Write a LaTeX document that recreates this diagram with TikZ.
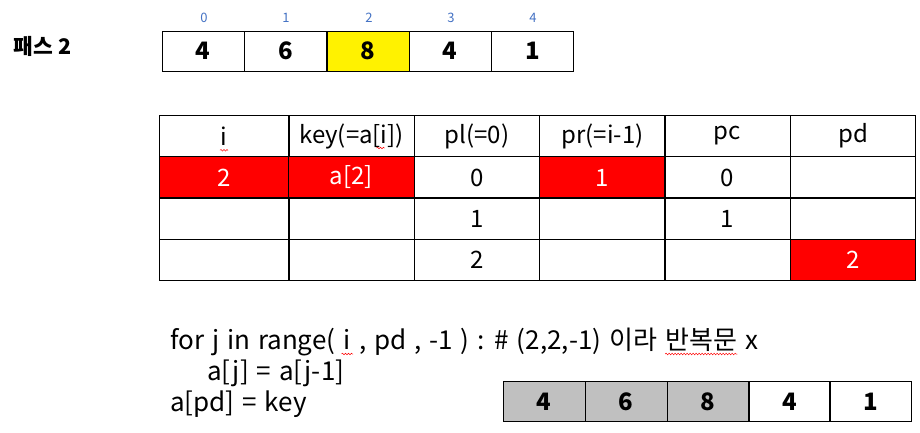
\documentclass[tikz,border=0pt]{standalone}
\usepackage{fontspec}
\setmainfont{Noto Sans CJK KR}
\usetikzlibrary{decorations.pathmorphing}
\definecolor{idxblue}{RGB}{68,114,196}
\definecolor{cellgray}{RGB}{192,192,192}
\newcommand\codefont{\fontsize{26}{26}\selectfont\spaceskip 7.9pt\relax}
\tikzset{
	cell/.style={draw, thick, minimum width=82pt, minimum height=40pt, inner sep=0pt, font=\fontsize{24}{24}\selectfont\bfseries},
	tcell/.style={draw, thick, minimum width=125.5pt, minimum height=41.5pt, inner sep=0pt, font=\fontsize{24}{24}\selectfont},
	hot/.style={fill=red, text=white},
	done/.style={fill=cellgray},
	idx/.style={text=idxblue, font=\fontsize{13}{13}\selectfont},
	code/.style={anchor=base west, inner sep=0pt, font=\codefont},
	spell/.style={red, line width=0.5pt, decorate, decoration={snake, amplitude=0.8pt, segment length=3pt}}
}
\begin{document}
\begin{tikzpicture}[x=1pt, y=-1pt]
	\useasboundingbox[fill=white] (0,0) rectangle (920,433);

	% pass label and array
	\node[anchor=west, font=\fontsize{21.5}{21.5}\selectfont\bfseries] (pass) at (10,46) {패스 2};
	\node[cell] (a0) at (203,51) {4};
	\node[cell] (a1) at (285.5,51) {6};
	\node[cell, fill=yellow] (a2) at (368,51) {8};
	\node[cell] (a3) at (450,51) {4};
	\node[cell] (a4) at (532.5,51) {1};
	\node[idx] (i0) at (204,18) {0};
	\node[idx] (i1) at (286,18) {1};
	\node[idx] (i2) at (369,18) {2};
	\node[idx] (i3) at (451,18) {3};
	\node[idx] (i4) at (533,18) {4};

	% table
	\node[tcell, minimum width=130pt] (hi) at (224,136) {i};
	\node[tcell] (hkey) at (351.5,136) {key(=a[i])};
	\node[tcell] (hpl) at (477,136) {pl(=0)};
	\node[tcell] (hpr) at (602.5,136) {pr(=i-1)};
	\node[tcell] (hpc) at (727.5,136) {pc};
	\node[tcell] (hpd) at (853,136) {pd};

	\node[tcell, hot, minimum width=130pt] (r1i) at (224,177.5) {2};
	\node[tcell, hot] (r1key) at (351.5,177.5) {a[2]};
	\node[tcell] (r1pl) at (477,177.5) {0};
	\node[tcell, hot] (r1pr) at (602.5,177.5) {1};
	\node[tcell] (r1pc) at (727.5,177.5) {0};
	\node[tcell] (r1pd) at (853,177.5) {};

	\node[tcell, minimum width=130pt] (r2i) at (224,218.5) {};
	\node[tcell] (r2key) at (351.5,218.5) {};
	\node[tcell] (r2pl) at (477,218.5) {1};
	\node[tcell] (r2pr) at (602.5,218.5) {};
	\node[tcell] (r2pc) at (727.5,218.5) {1};
	\node[tcell] (r2pd) at (853,218.5) {};

	\node[tcell, minimum width=130pt] (r3i) at (224,260) {};
	\node[tcell] (r3key) at (351.5,260) {};
	\node[tcell] (r3pl) at (477,260) {2};
	\node[tcell] (r3pr) at (602.5,260) {};
	\node[tcell] (r3pc) at (727.5,260) {};
	\node[tcell, hot] (r3pd) at (853,260) {2};

	% code
	\node[code] (for) at (170,349) {for j in range( \mbox{}};
	\node[code] (fori) at (for.base east) {i};
	\node[code] (formid) at (fori.base east) {\mbox{} , pd , -1 ) : \# (2,2,-1) 이라 \mbox{}};
	\node[code] (forko) at (formid.base east) {반복문};
	\node[code] (forx) at (forko.base east) {\mbox{} x};
	\node[code] (shift) at (207,380) {a[j] = a[j-1]};
	\node[code] (put) at (170,411) {a[pd] = key};

	% array after the pass
	\node[cell, done] (b0) at (544,401.5) {4};
	\node[cell, done] (b1) at (626,401.5) {6};
	\node[cell, done] (b2) at (708,401.5) {8};
	\node[cell] (b3) at (789.5,401.5) {4};
	\node[cell] (b4) at (870.5,401.5) {1};

	% spell check marks
	\draw[spell] ([xshift=-4pt, yshift=-5pt]hi.base) -- ([xshift=4pt, yshift=-5pt]hi.base);
	\draw[spell] ([xshift=25pt, yshift=-5pt]hkey.base) -- ([xshift=33pt, yshift=-5pt]hkey.base);
	\draw[spell] ([xshift=-2pt, yshift=-5pt]fori.base west) -- ([xshift=2pt, yshift=-5pt]fori.base east);
	\draw[spell] ([yshift=-5pt]forko.base west) -- ([yshift=-5pt]forko.base east);
\end{tikzpicture}
\end{document}
